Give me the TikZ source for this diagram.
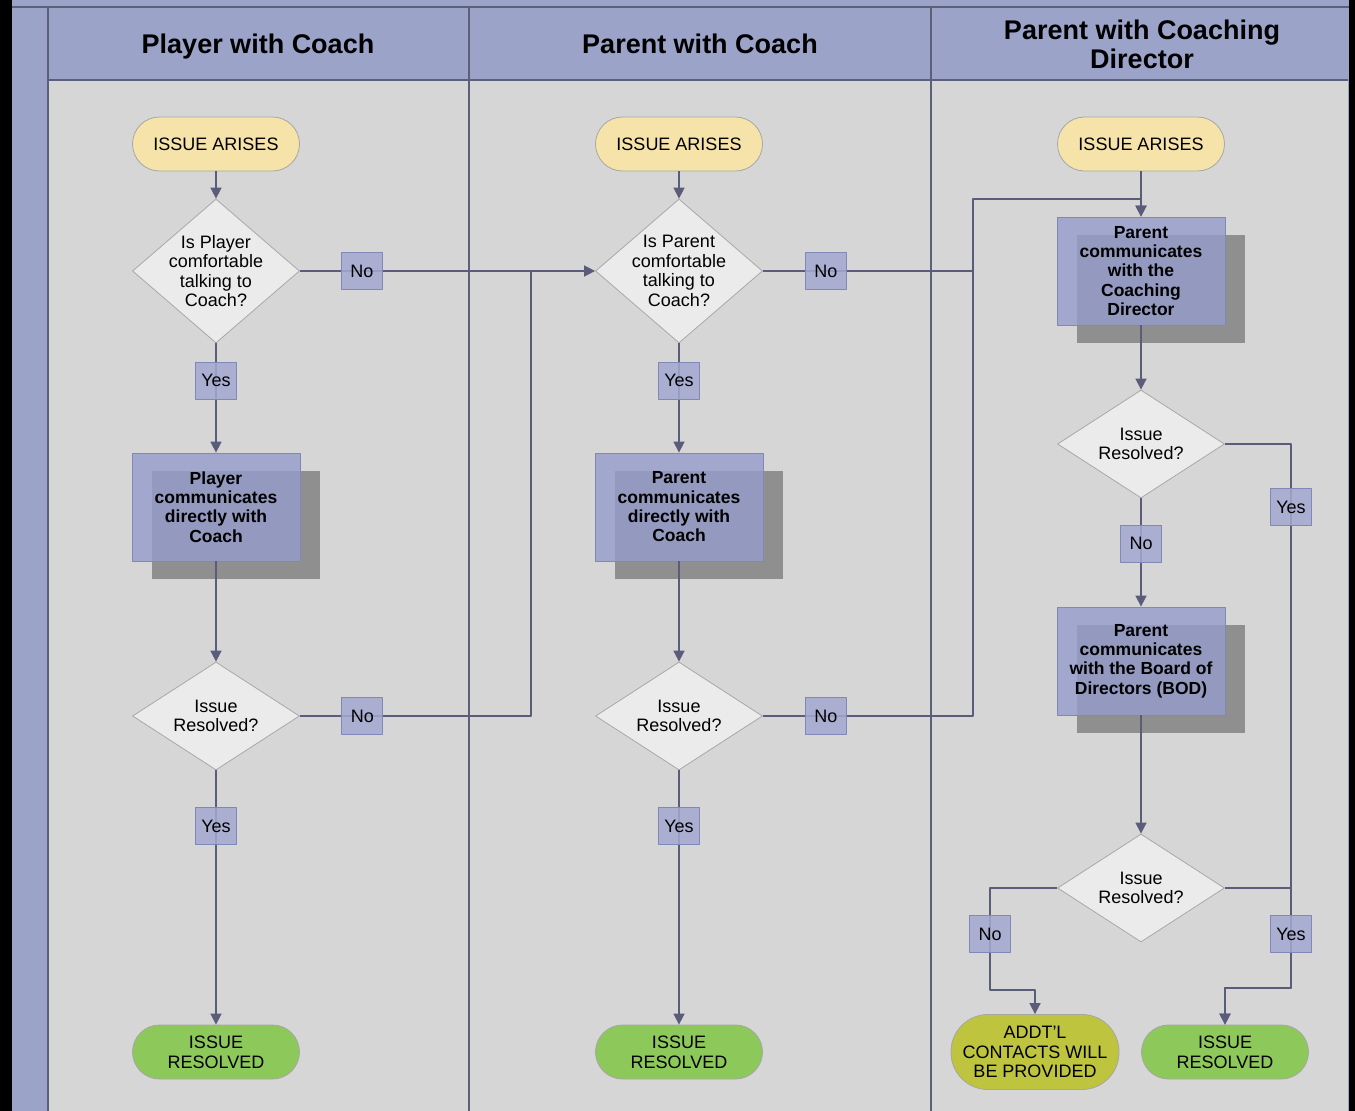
\documentclass[tikz,border=0pt]{standalone}
\usepackage{fontspec}
\setmainfont{Liberation Sans}
\usetikzlibrary{arrows.meta, shapes.geometric, shadows}

\definecolor{lanebg}{HTML}{D6D6D6}
\definecolor{headblue}{HTML}{9BA3C9}
\definecolor{laneline}{HTML}{5C5F78}
\definecolor{flowline}{HTML}{5A5C7A}
\definecolor{procfill}{HTML}{959CCC}
\definecolor{procdraw}{HTML}{8088B8}
\definecolor{shadowgray}{HTML}{8F8F8F}
\definecolor{lblfill}{HTML}{A3A9D1}
\definecolor{decfill}{HTML}{EBEBEB}
\definecolor{decdraw}{HTML}{A8A8A8}
\definecolor{startfill}{HTML}{F5E3A9}
\definecolor{endfill}{HTML}{8DC85A}
\definecolor{morefill}{HTML}{BEC43E}

\tikzset{
  lanetitle/.style={font=\fontsize{27}{29}\selectfont\bfseries, align=center},
  terminal/.style={rectangle, rounded corners=27pt, draw=black!35, line width=0.8pt, fill=startfill,
    minimum width=167pt, minimum height=54pt, inner sep=2pt, align=center, font=\fontsize{18}{20}\selectfont},
  question/.style={diamond, draw=decdraw, line width=0.8pt, fill=decfill, shape aspect=1.16,
    minimum width=167pt, minimum height=144pt, inner sep=-6pt, align=center, font=\fontsize{18}{19.5}\selectfont},
  check/.style={question, shape aspect=1.55, minimum height=108pt, inner sep=0pt},
  process/.style={rectangle, draw=procdraw, line width=0.8pt, fill=procfill, fill opacity=0.8, text opacity=1,
    minimum width=168pt, minimum height=108pt, inner sep=2pt, align=center, font=\fontsize{17.5}{19.3}\selectfont\bfseries,
    drop shadow={shadow xshift=20pt, shadow yshift=-18pt, fill=shadowgray, opacity=1}},
  lbl/.style={rectangle, draw=procdraw, line width=0.8pt, fill=lblfill, fill opacity=0.85, text opacity=1,
    minimum width=41pt, minimum height=37pt, inner sep=2pt, font=\fontsize{18}{20}\selectfont},
  link/.style={draw=flowline, line width=1.6pt},
  flow/.style={link, ->},
}

\begin{document}
\begin{tikzpicture}[x=1pt,y=-1pt,line join=round,>={Triangle[length=11pt,width=11pt]}]
\useasboundingbox (0,0) rectangle (1355,1111);
% swim lanes
\fill[black] (0,0) rectangle (1355,1111);
\fill[headblue] (12,0) rectangle (1349,1111);
\fill[lanebg] (48,80) rectangle (1348,1111);
\draw[laneline, line width=1.5pt] (12,7) -- (1349,7);
\draw[laneline, line width=1.5pt] (48,80) -- (1348,80);
\draw[laneline, line width=1.5pt] (48,7) -- (48,1111);
\draw[laneline, line width=1.5pt] (469,7) -- (469,1111);
\draw[laneline, line width=1.5pt] (931,7) -- (931,1111);
\node[lanetitle, anchor=base] (hd1) at (258,53.5) {Player with Coach};
\node[lanetitle, anchor=base] (hd2) at (700,53.5) {Parent with Coach};
\node[lanetitle] (hd3) at (1142,44) {Parent with Coaching\\Director};

% lane 1
\node[terminal] (a1) at (216,144) {ISSUE ARISES};
\node[question] (q1) at (216,271) {Is Player\\comfortable\\talking to\\Coach?};
\node[process] (c1) at (216,507) {Player\\communicates\\directly with\\Coach};
\node[check] (r1) at (216,716) {Issue\\Resolved?};
\node[terminal, fill=endfill] (e1) at (216,1052) {ISSUE\\RESOLVED};

% lane 2
\node[terminal] (a2) at (679,144) {ISSUE ARISES};
\node[question] (q2) at (679,271) {Is Parent\\comfortable\\talking to\\Coach?};
\node[process] (c2) at (679,507) {Parent\\communicates\\directly with\\Coach};
\node[check] (r2) at (679,716) {Issue\\Resolved?};
\node[terminal, fill=endfill] (e2) at (679,1052) {ISSUE\\RESOLVED};

% lane 3
\node[terminal] (a3) at (1141,144) {ISSUE ARISES};
\node[process] (c3) at (1141,271) {Parent\\communicates\\with the\\Coaching\\Director};
\node[check] (r3) at (1141,444) {Issue\\Resolved?};
\node[process] (b3) at (1141,661) {Parent\\communicates\\with the Board of\\Directors (BOD)};
\node[check] (r4) at (1141,888) {Issue\\Resolved?};
\node[terminal, fill=morefill, rounded corners=37pt, minimum width=168pt, minimum height=75pt,
  font=\fontsize{18}{19.5}\selectfont] (x3) at (1035,1052) {ADDT'L\\CONTACTS WILL\\BE PROVIDED};
\node[terminal, fill=endfill] (e3) at (1225,1052) {ISSUE\\RESOLVED};

\coordinate (j1) at (531,716);
\coordinate (j2) at (973,199);
\coordinate (k2) at (1291,988);
\coordinate (k3) at (990,990);

% connectors
\draw[flow] (a1.south) -- (q1.north);
\draw[flow] (q1.south) -- node[lbl, pos=.34] (y1) {Yes} (c1.north);
\draw[flow] (c1.south) -- (r1.north);
\draw[flow] (r1.south) -- node[lbl, pos=.22] (y2) {Yes} (e1.north);
\draw[flow] (q1.east) -- node[lbl, pos=.21] (n1) {No} (q2.west);
\draw[link] (r1.east) -- node[lbl, pos=.27] (n2) {No} (j1) -- (j1 |- q2.west);

\draw[flow] (a2.south) -- (q2.north);
\draw[flow] (q2.south) -- node[lbl, pos=.34] (y3) {Yes} (c2.north);
\draw[flow] (c2.south) -- (r2.north);
\draw[flow] (r2.south) -- node[lbl, pos=.22] (y4) {Yes} (e2.north);
\draw[link] (q2.east) -- node[lbl, pos=.30] (n3) {No} (q2.east -| j2);
\draw[flow] (r2.east) -- node[lbl, pos=.30] (n4) {No} (r2.east -| j2) -- (j2) -| (c3.north);

\draw[flow] (a3.south) -- (c3.north);
\draw[flow] (c3.south) -- (r3.north);
\draw[flow] (r3.south) -- node[lbl, pos=.42] (n5) {No} (b3.north);
\draw[flow] (r3.east) -- (r3.east -| k2) -- node[lbl, pos=.116] (y5) {Yes} (k2) -| (e3.north);
\draw[flow] (b3.south) -- (r4.north);
\draw[flow] (r4.east) -- (r4.east -| k2) -- node[lbl, pos=.46] (y6) {Yes} (k2) -| (e3.north);
\draw[flow] (r4.west) -- (r4.west -| k3) -- node[lbl, pos=.45] (n6) {No} (k3) -| (x3.north);
\end{tikzpicture}
\end{document}
